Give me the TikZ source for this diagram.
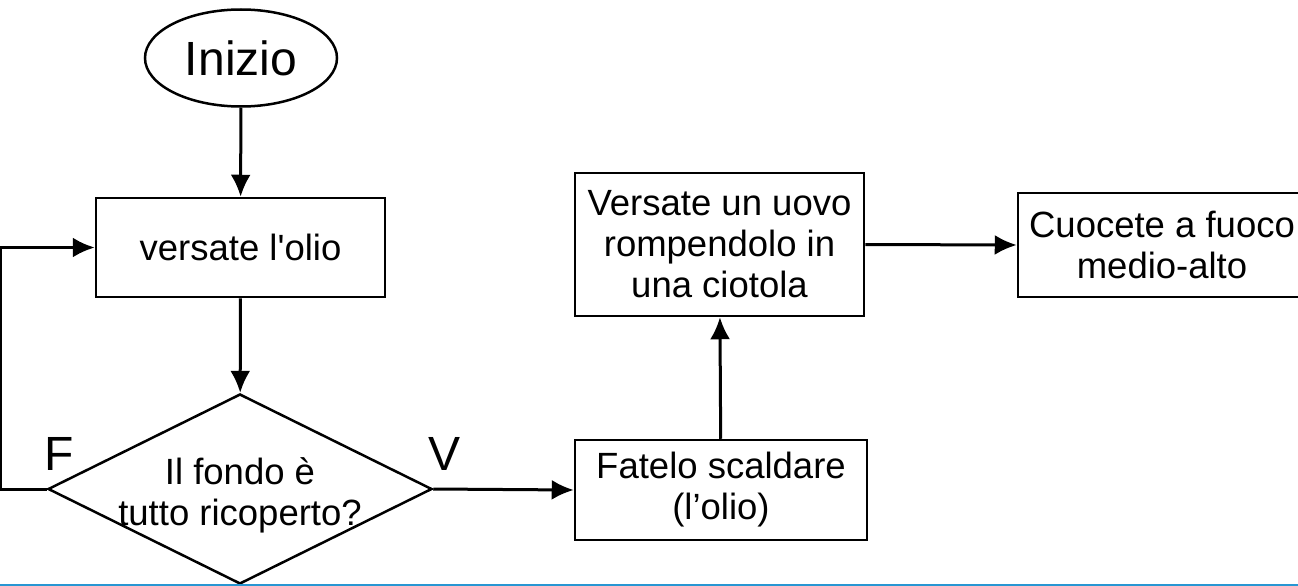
\documentclass[tikz,border=0pt]{standalone}
\usepackage{fontspec}
\newfontfamily\lsans{Liberation Sans}
\usetikzlibrary{shapes.geometric,arrows.meta}
\definecolor{edgeblue}{RGB}{40,150,210}

\begin{document}
\begin{tikzpicture}[x=1pt,y=-1pt,
  txt/.style={font=\lsans\fontsize{36.5}{41}\selectfont,align=center,inner sep=0pt},
  box/.style={txt,draw,rectangle,line width=2.5pt},
  big/.style={font=\lsans\fontsize{48}{54}\selectfont,inner sep=0pt},
  flow/.style={line width=3pt,-{Latex[length=22pt,width=20pt]}}]
  \useasboundingbox (0,0) rectangle (1298,586);
  \clip (0,0) rectangle (1298,586);

  \node[txt,big,draw,ellipse,line width=2.5pt,minimum width=192pt,minimum height=97pt] (start) at (241,58) {Inizio};
  \node[box,minimum width=289pt,minimum height=99pt] (pour) at (240.5,247.5) {versate l'olio};
  \node[draw,diamond,line width=2.5pt,inner sep=0pt,minimum width=384pt,minimum height=190pt] (cond) at (240,489) {};
  \node[txt] (condtxt) at ([yshift=-6pt]cond.center) {Il fondo è\\tutto ricoperto?};
  \node[box,minimum width=292pt,minimum height=100pt] (heat) at (721,490) {Fatelo scaldare\\(l’olio)};
  \node[box,minimum width=289pt,minimum height=143pt] (egg) at (719.5,244.5) {Versate un uovo\\rompendolo in\\una ciotola};
  \node[box,minimum width=288pt,minimum height=104pt] (cook) at (1162,245) {Cuocete a fuoco\\medio-alto};

  \node[big] (no) at (59,454) {F};
  \node[big] (yes) at (445,454) {V};

  \draw[flow] (start) -- (pour);
  \draw[flow] (pour) -- (cond);
  \draw[flow] (cond.west) -- ++(-46,0) |- (pour.west);
  \draw[flow] (cond.east) -- (heat.west);
  \draw[flow] (heat) -- (egg);
  \draw[flow] (egg.east) -- (cook.west);

  \draw[edgeblue,line width=1.5pt] (0,585) -- (1298,585);
\end{tikzpicture}
\end{document}
